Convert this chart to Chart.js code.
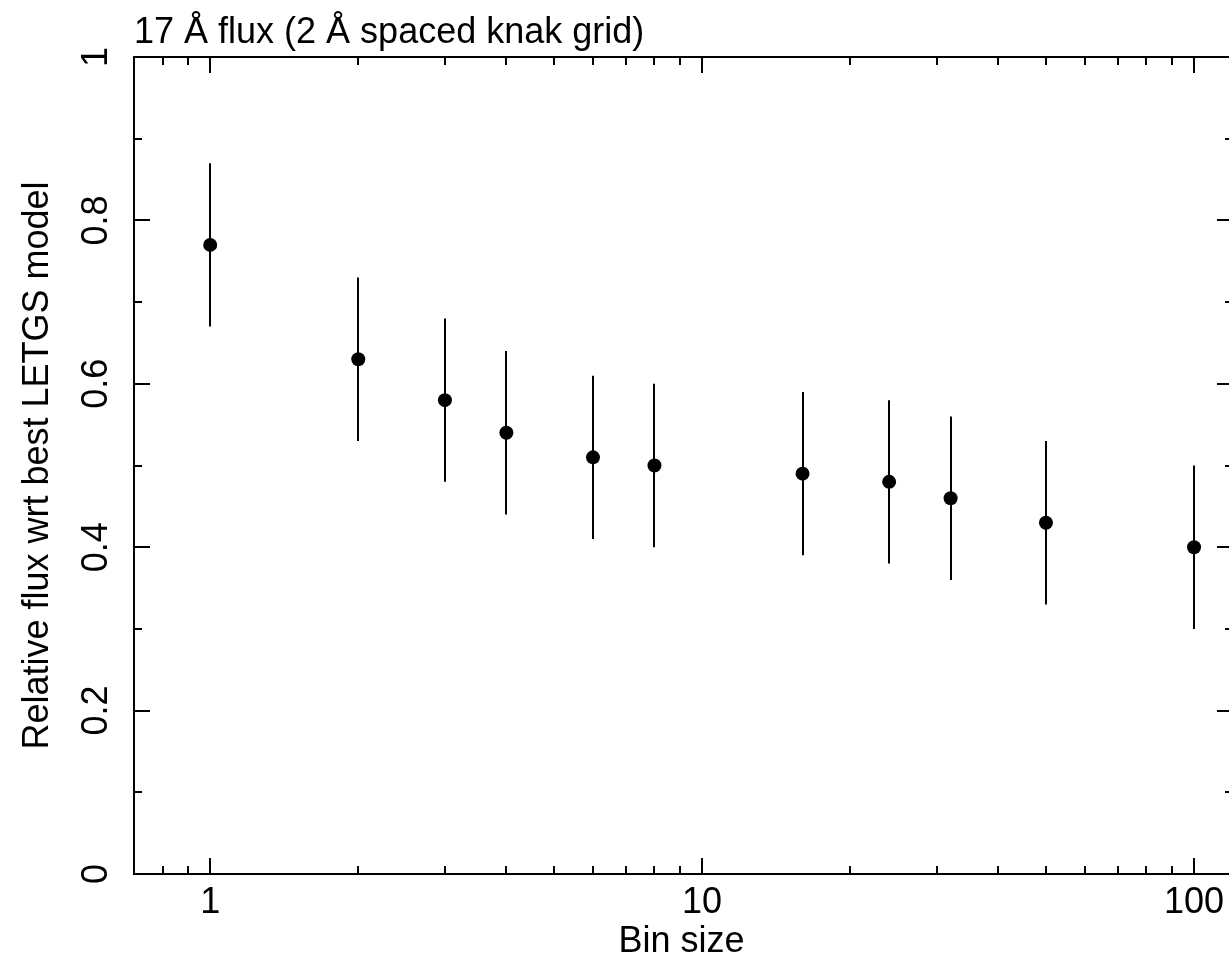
<!DOCTYPE html>
<html>
<head>
<meta charset="utf-8">
<script src="https://cdn.jsdelivr.net/npm/chart.js@4"></script>
<style>
  html, body { margin: 0; padding: 0; background: #fff; overflow: hidden; }
  #wrap { width: 1229px; height: 961px; overflow: hidden; }
</style>
</head>
<body>
<div id="wrap"><canvas id="fluxChart" width="1240" height="961"></canvas></div>
<script>
/* --- DATA --- */
const binSize = [1, 2, 3, 4, 6, 8, 16, 24, 32, 50, 100];
const relFlux = [0.77, 0.63, 0.58, 0.54, 0.51, 0.50, 0.49, 0.48, 0.46, 0.43, 0.40];
const fluxLow = [0.67, 0.53, 0.48, 0.44, 0.41, 0.40, 0.39, 0.38, 0.36, 0.33, 0.30];
const fluxHigh = [0.87, 0.73, 0.68, 0.64, 0.61, 0.60, 0.59, 0.58, 0.56, 0.53, 0.50];

const xMajorTicks = [1, 10, 100];
const xTickLabels = ['1', '10', '100'];
const yMajorTicks = [0, 0.2, 0.4, 0.6, 0.8, 1];
const yTickLabels = ['0', '0.2', '0.4', '0.6', '0.8', '1'];

const titleText = '17 Å flux (2 Å spaced knak grid)';
const xTitle = 'Bin size';
const yTitle = 'Relative flux wrt best LETGS model';

const FONT = '"Liberation Sans", Arial, Helvetica, sans-serif';

// minor ticks for log axis: 2..9 times each decade, inside the range
function logMinorTicks(min, max) {
    const out = [];
    for (let d = Math.floor(Math.log10(min)); d <= Math.ceil(Math.log10(max)); d++) {
        for (let m = 1; m < 10; m++) {
            const v = m * Math.pow(10, d);
            if (v >= min && v <= max) out.push(v);
        }
    }
    return out;
}

/* --- PLUGIN: frame, inward ticks, labels, error bars --- */
const framePlugin = {
    id: 'framePlugin',
    beforeDatasetsDraw(chart) {
        const ctx = chart.ctx;
        const xs = chart.scales.x;
        const ys = chart.scales.y;
        ctx.save();
        ctx.strokeStyle = '#000';
        ctx.lineWidth = 2;
        // error bars
        binSize.forEach((b, i) => {
            const px = Math.round(xs.getPixelForValue(b));
            ctx.beginPath();
            ctx.moveTo(px, ys.getPixelForValue(fluxLow[i]));
            ctx.lineTo(px, ys.getPixelForValue(fluxHigh[i]));
            ctx.stroke();
        });
        ctx.restore();
    },
    afterDraw(chart) {
        const ctx = chart.ctx;
        const a = chart.chartArea;
        const xs = chart.scales.x;
        const ys = chart.scales.y;
        const major = 16, minor = 8;

        ctx.save();
        ctx.strokeStyle = '#000';
        ctx.lineWidth = 2;
        ctx.strokeRect(a.left, a.top, a.right - a.left, a.bottom - a.top);

        // x ticks (bottom + top, pointing inward)
        ctx.beginPath();
        logMinorTicks(xs.min, xs.max).forEach(v => {
            const px = Math.round(xs.getPixelForValue(v));
            const len = xMajorTicks.includes(v) ? major : minor;
            ctx.moveTo(px, a.bottom); ctx.lineTo(px, a.bottom - len);
            ctx.moveTo(px, a.top); ctx.lineTo(px, a.top + len);
        });
        // y ticks (left + right, pointing inward)
        for (let k = 0; k <= 10; k++) {
            const v = k / 10;
            const py = Math.round(ys.getPixelForValue(v));
            const len = (k % 2 === 0) ? major : minor;
            ctx.moveTo(a.left, py); ctx.lineTo(a.left + len, py);
            ctx.moveTo(a.right, py); ctx.lineTo(a.right - len, py);
        }
        ctx.stroke();

        ctx.fillStyle = '#000';
        ctx.font = '36px ' + FONT;

        // x tick labels
        ctx.textAlign = 'center';
        ctx.textBaseline = 'middle';
        xMajorTicks.forEach((v, i) => {
            ctx.fillText(xTickLabels[i], xs.getPixelForValue(v), 903);
        });

        // y tick labels (rotated)
        yMajorTicks.forEach((v, i) => {
            ctx.save();
            ctx.translate(97, ys.getPixelForValue(v));
            ctx.rotate(-Math.PI / 2);
            ctx.fillText(yTickLabels[i], 0, 0);
            ctx.restore();
        });

        // axis titles
        ctx.fillText(xTitle, (a.left + 1229) / 2, 942);
        ctx.save();
        ctx.translate(38, (a.top + a.bottom) / 2);
        ctx.rotate(-Math.PI / 2);
        ctx.fillText(yTitle, 0, 0);
        ctx.restore();

        // plot title
        ctx.textAlign = 'left';
        ctx.textBaseline = 'alphabetic';
        ctx.fillText(titleText, a.left, 43);
        ctx.restore();
    }
};

/* --- CHART --- */
const ctx = document.getElementById('fluxChart').getContext('2d');
new Chart(ctx, {
    type: 'scatter',
    data: {
        datasets: [{
            label: 'Relative flux',
            data: binSize.map((b, i) => ({ x: b, y: relFlux[i] })),
            backgroundColor: '#000',
            borderColor: '#000',
            pointRadius: 7,
            pointHoverRadius: 7,
            borderWidth: 0
        }]
    },
    options: {
        responsive: false,
        animation: false,
        devicePixelRatio: 1,
        layout: { padding: { left: 134, top: 57, right: 7, bottom: 87 } },
        plugins: {
            legend: { display: false },
            tooltip: { enabled: false },
            title: { display: false }
        },
        scales: {
            x: { type: 'logarithmic', min: 0.7, max: 120, display: false },
            y: { type: 'linear', min: 0, max: 1, display: false }
        }
    },
    plugins: [framePlugin]
});
</script>
</body>
</html>
